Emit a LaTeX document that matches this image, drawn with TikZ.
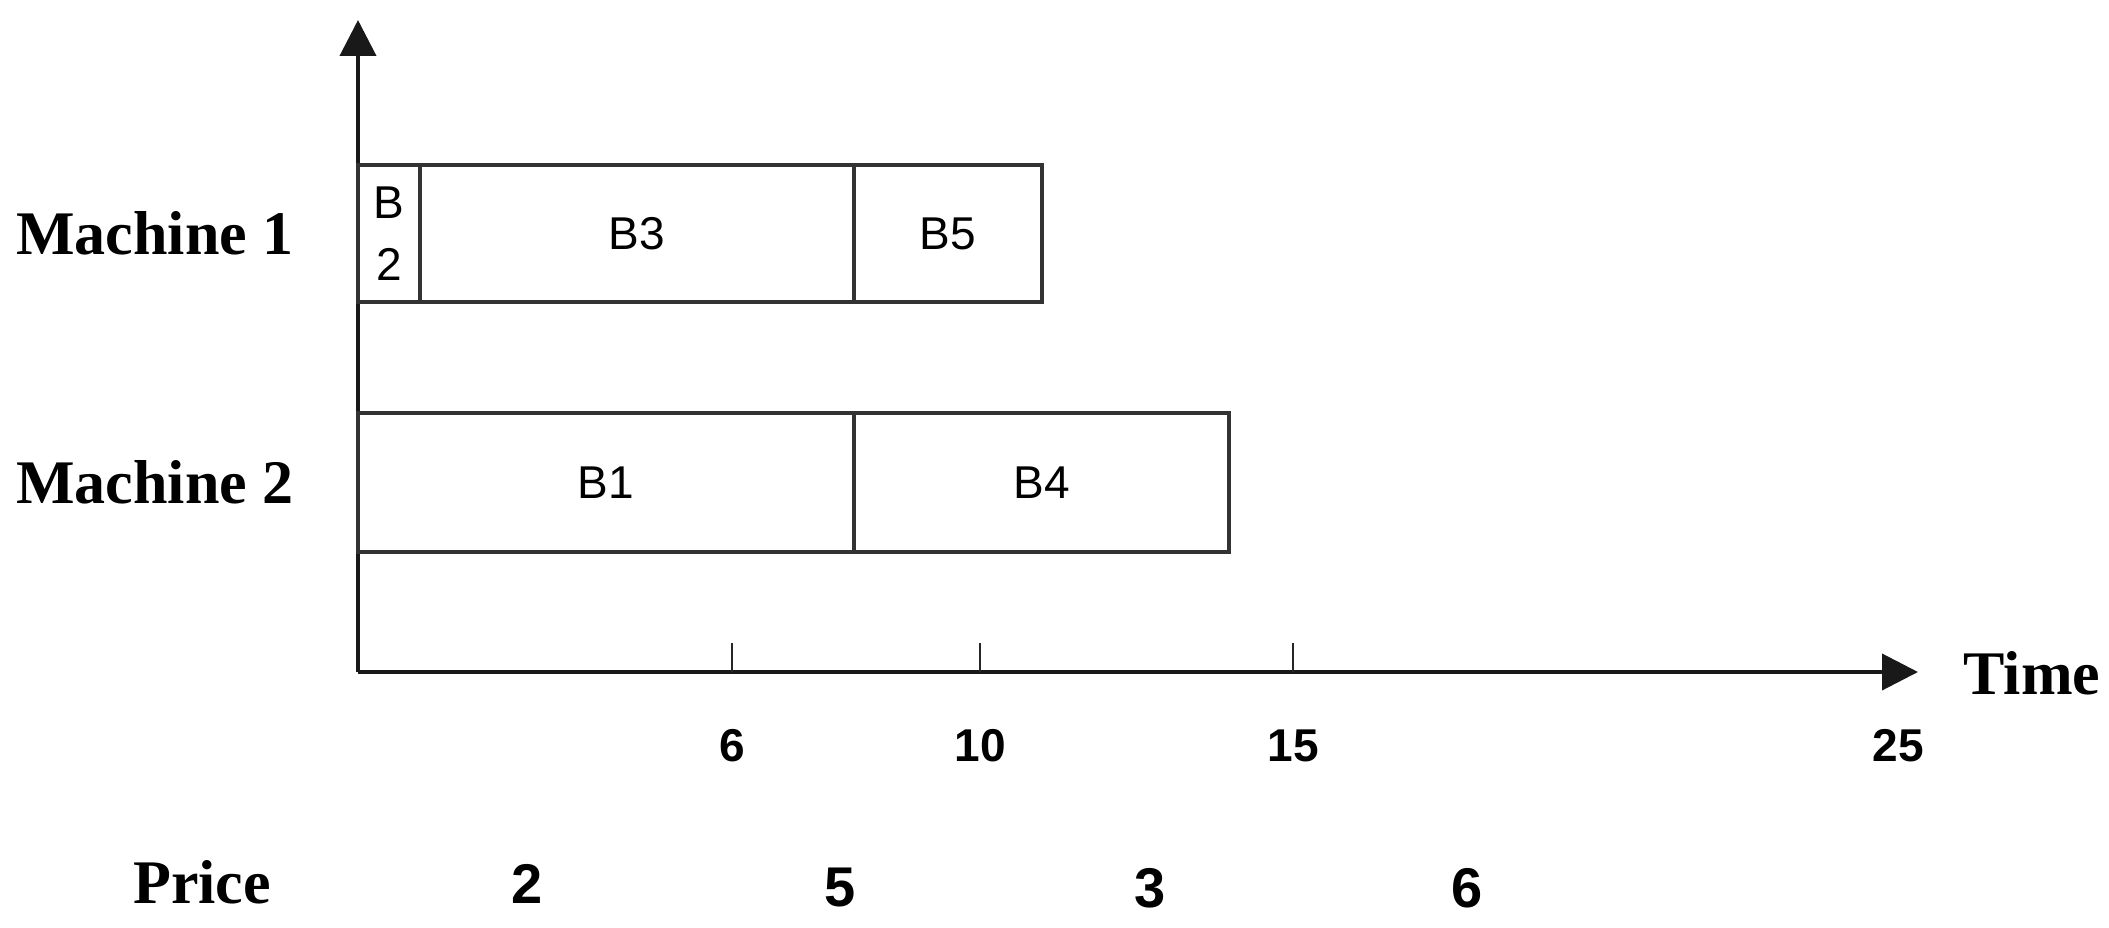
\documentclass[tikz,border=0pt]{standalone}
\usepackage{fontspec}
\setmainfont{Liberation Serif}
\newfontfamily\boxfont{Liberation Sans}
\usetikzlibrary{arrows.meta}
\definecolor{linegray}{HTML}{333333}
\tikzset{
  job/.style={draw=linegray, line width=4.5pt, anchor=north west, inner sep=0pt, outer sep=0pt,
              font=\boxfont\fontsize{46}{62}\selectfont, align=center},
  axis/.style={draw=black!90, line width=4pt},
  tick/.style={draw=black!85, line width=2pt},
  ticklabel/.style={font=\boxfont\bfseries\fontsize{46}{50}\selectfont, inner sep=0pt},
  pricelabel/.style={font=\boxfont\bfseries\fontsize{56}{60}\selectfont, inner sep=0pt},
  rowlabel/.style={font=\bfseries\fontsize{62}{66}\selectfont, inner sep=0pt}
}
\begin{document}
\begin{tikzpicture}[x=1pt,y=-1pt]
\useasboundingbox (0,0) rectangle (2109,928);
% axes
\coordinate (O) at (358,672);
\coordinate (ytop) at (358,20);
\coordinate (xend) at (1918,672);
\draw[axis, -{Triangle[length=36pt,width=36pt]}] (O) -- (ytop);
\draw[axis, -{Triangle[length=36pt,width=36pt]}] (O) -- (xend);
% jobs machine 1
\node[job, minimum width=62pt, minimum height=137pt] (b2) at (358,165) {B\\2};
\node[job, minimum width=434pt, minimum height=137pt] (b3) at (420,165) {B3};
\node[job, minimum width=188pt, minimum height=137pt] (b5) at (854,165) {B5};
% jobs machine 2
\node[job, minimum width=496pt, minimum height=139pt] (b1) at (358,413) {B1};
\node[job, minimum width=375pt, minimum height=139pt] (b4) at (854,413) {B4};
% ticks
\coordinate (t6) at (732,672);
\coordinate (t10) at (980,672);
\coordinate (t15) at (1293,672);
\draw[tick] (t6) -- ++(0,-29);
\draw[tick] (t10) -- ++(0,-29);
\draw[tick] (t15) -- ++(0,-29);
% tick labels
\node[ticklabel] (l6) at (732,746) {6};
\node[ticklabel] (l10) at (980,746) {10};
\node[ticklabel] (l15) at (1293,746) {15};
\node[ticklabel] (l25) at (1898,746) {25};
% row labels
\node[rowlabel] (m1) at (155,233) {Machine 1};
\node[rowlabel] (m2) at (155,482) {Machine 2};
\node[rowlabel] (time) at (2032,673) {Time};
\node[rowlabel] (price) at (202,882) {Price};
% prices
\node[pricelabel] (p1) at (527,884) {2};
\node[pricelabel] (p2) at (840,888) {5};
\node[pricelabel] (p3) at (1150,888) {3};
\node[pricelabel] (p4) at (1467,888) {6};
\end{tikzpicture}
\end{document}
